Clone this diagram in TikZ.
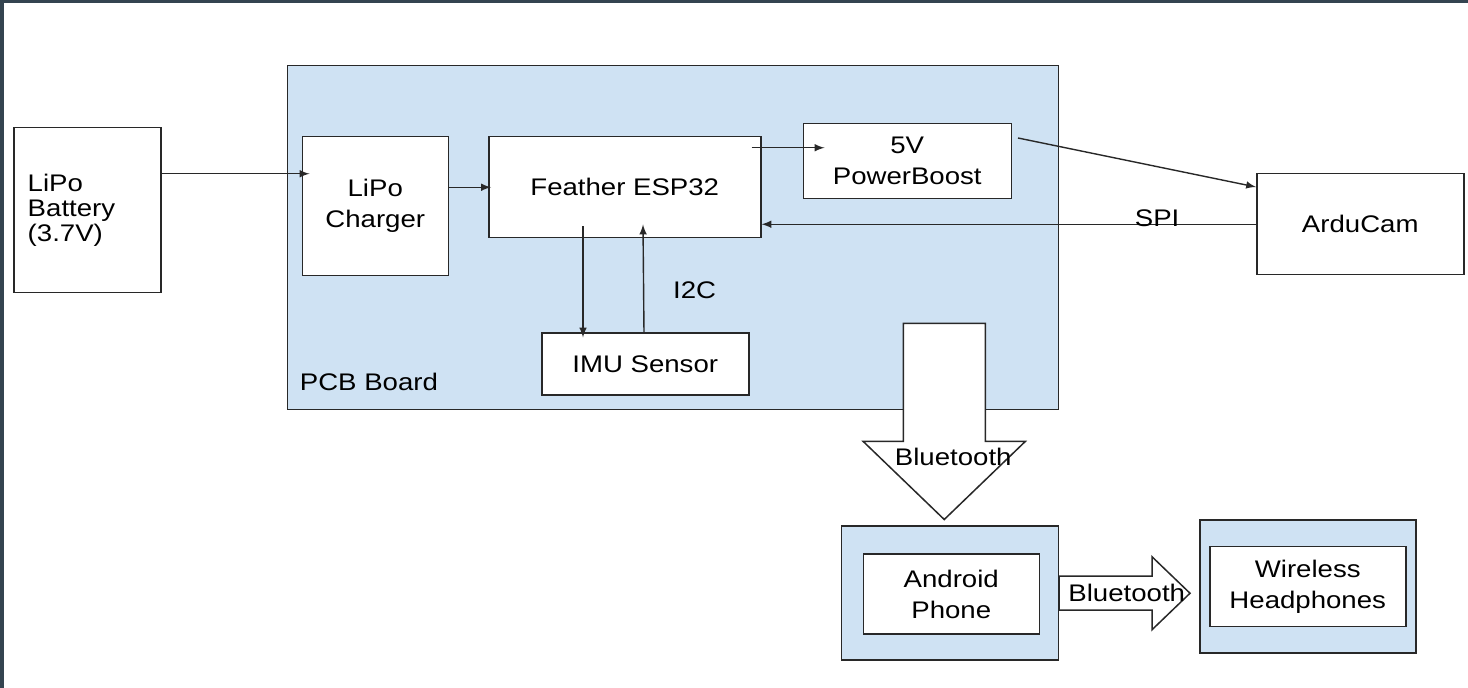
\documentclass[tikz,border=0pt]{standalone}
\usepackage{fontspec}
\setmainfont{Liberation Sans}[FakeStretch=1.15]
\usepackage{tikz}
\usetikzlibrary{shapes,arrows,positioning,fit,backgrounds}
\definecolor{pcbblue}{RGB}{207,226,243}
\definecolor{framedark}{RGB}{52,68,80}
\definecolor{inkgray}{RGB}{40,40,40}
\newcommand{\boxfont}{\fontsize{12pt}{15.5pt}\selectfont}
\tikzstyle{block} = [rectangle, draw=inkgray, line width=0.75pt, fill=white, text=black, align=center, font=\boxfont, inner sep=0pt]
\tikzstyle{board} = [rectangle, draw=inkgray, line width=0.75pt, fill=pcbblue, inner sep=0pt]
\tikzstyle{tag} = [draw=none, fill=none, text=black, font=\boxfont, inner sep=0pt]
\tikzstyle{wire}  = [draw=inkgray, line width=0.7pt, >=latex, ->]
\tikzstyle{fat}  = [draw=inkgray, line width=0.75pt, fill=white, line join=miter]

\begin{document}
\begin{tikzpicture}[auto]
\useasboundingbox (0,0) rectangle (734pt,-344pt);
\fill[framedark] (0,0) rectangle (734pt,-1.5pt);
\fill[framedark] (0,0) rectangle (2pt,-344pt);
%blocks=========================

\node[block, anchor=north west, minimum width=73.5pt, minimum height=82.5pt, text width=59.5pt, inner xsep=7pt, align=left, font=\fontsize{12pt}{12.5pt}\selectfont] (battery) at (6.5pt,-63.5pt) {LiPo\\Battery\\(3.7V)};
\node[block, below right=4.5pt and 70pt of battery.north east, minimum width=73pt, minimum height=69.5pt] (charger) {LiPo\\Charger};
\node[block, right=19.5pt of charger.north east, anchor=north west, minimum width=136pt, minimum height=50.5pt] (esp) {Feather ESP32};
\node[block, above right=6.5pt and 20.5pt of esp.north east, anchor=north west, minimum width=104pt, minimum height=37.5pt] (boost) {5V\\PowerBoost};
\node[block, below right=25pt and 122pt of boost.north east, minimum width=103.5pt, minimum height=50.5pt] (cam) {ArduCam};
\node[block, below right=47pt and 26.5pt of esp.south west, minimum width=103.5pt, minimum height=31pt] (imu) {IMU Sensor};

\begin{scope}[on background layer]
\node[board, above left=35.5pt and 7.5pt of charger.north west, anchor=north west, minimum width=385.5pt, minimum height=172pt] (pcb) {};
\end{scope}
\node[tag, above right=9.5pt and 6.5pt of pcb.south west] (pcblbl) {PCB Board};
\node[tag, below left=21.5pt and 22.5pt of esp.south east] (i2c) {I2C};

\node[board, below=57.5pt of pcb.south east, anchor=north east, minimum width=108.5pt, minimum height=67pt] (phonebg) {};
\node[block, minimum width=88pt, minimum height=40pt] (phone) at ([xshift=0.75pt,yshift=-0.5pt]phonebg.center) {Android\\Phone};
\node[board, above right=3pt and 70pt of phonebg.north east, anchor=north west, minimum width=108pt, minimum height=66.5pt] (headbg) {};
\node[block, minimum width=98pt, minimum height=40pt] (head) at (headbg.center) {Wireless\\Headphones};

% edges
\path[wire] ([yshift=18.25pt]battery.east) -- ([xshift=4pt,yshift=18.25pt]battery.east -| charger.west);
\path[wire] (charger.east |- esp.west) -- ([xshift=1.5pt]esp.west);
\path[wire] ([xshift=-5pt,yshift=6.75pt]esp.east |- boost.west) -- ([xshift=11pt,yshift=6.75pt]boost.west);
\path[wire] ([xshift=3pt,yshift=-7.5pt]boost.north east) -- ([yshift=-7pt]cam.north west);
\path[wire] (cam.west) -- node[tag, pos=0.2, above=-1.5pt] (spi) {SPI} (cam.west -| esp.east);
\path[wire] ([xshift=47.5pt,yshift=6pt]esp.south west) -- ([xshift=47.5pt,yshift=-2.5pt]esp.south west |- imu.north);
\path[wire] ([xshift=78pt,yshift=-0.5pt]esp.south west |- imu.north) -- ([xshift=77.5pt,yshift=7pt]esp.south west);

% bluetooth arrows
\coordinate[above left=3pt and 2.75pt of phonebg.north] (bttip);
\draw[fat] (bttip) -- ++(-40.5pt,39pt) -- ++(20pt,0) -- ++(0,59pt) -- ++(41pt,0) -- ++(0,-59pt) -- ++(20pt,0) -- cycle;
\node[tag] (bt1) at ([xshift=4.5pt,yshift=31.5pt]bttip) {Bluetooth};
\draw[fat] (phonebg.east) -- ++(0,8.5pt) -- ++(46.5pt,0) -- ++(0,9.75pt) -- ++(19pt,-18.25pt) -- ++(-19pt,-18.25pt) -- ++(0,9.75pt) -- ++(-46.5pt,0) -- cycle;
\node[tag, right=4.5pt of phonebg.east] (bt2) {Bluetooth};

\end{tikzpicture}
\end{document}
